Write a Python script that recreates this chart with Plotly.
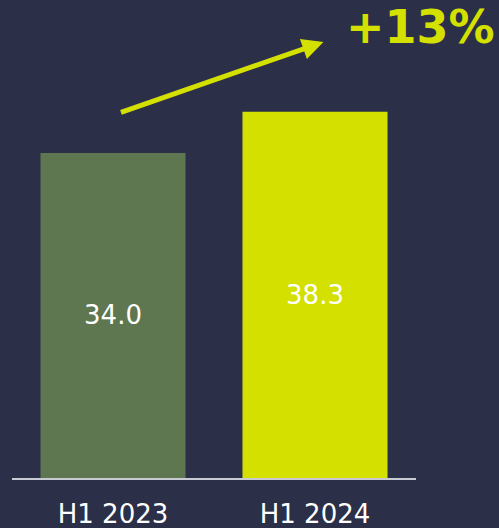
import plotly.graph_objects as go

BG = "#2b2f48"
FONT = "DejaVu Sans, Verdana, sans-serif"

periods = ["H1 2023", "H1 2024"]
values = [34.0, 38.3]
bar_colors = ["#5f7750", "#d4e000"]
growth_label = "+13%"

x_pos = list(range(len(periods)))

fig = go.Figure(go.Bar(
    x=x_pos,
    y=values,
    width=0.718,
    marker=dict(color=bar_colors, line=dict(width=0)),
    text=[f"{v:.1f}" for v in values],
    textposition="inside",
    insidetextanchor="middle",
    textangle=0,
    textfont=dict(family=FONT, size=26, color="white"),
    hoverinfo="skip",
))

# growth arrow from first bar towards the label
fig.add_annotation(
    x=1.042, y=45.6, xref="x", yref="y",
    ax=0.032, ay=38.2, axref="x", ayref="y",
    showarrow=True, arrowhead=2, arrowsize=0.85, arrowwidth=5,
    arrowcolor="#d4e000", text="",
)
fig.add_annotation(
    x=1.01, y=0.943, xref="paper", yref="paper",
    text=f"<b>{growth_label}</b>", showarrow=False,
    xanchor="center", yanchor="middle",
    font=dict(family=FONT, size=46, color="#d4e000"),
)

fig.update_layout(
    width=499,
    height=528,
    paper_bgcolor=BG,
    plot_bgcolor=BG,
    margin=dict(l=12, r=83, t=0, b=50),
    showlegend=False,
    xaxis=dict(
        range=[-0.5, 1.5],
        tickmode="array",
        tickvals=x_pos,
        ticktext=periods,
        showgrid=False,
        zeroline=False,
        showline=True,
        linecolor="#c9cbd4",
        linewidth=2,
        ticks="",
        ticklabelstandoff=12,
        tickfont=dict(family=FONT, size=26, color="white"),
        fixedrange=True,
    ),
    yaxis=dict(
        range=[0, 50],
        visible=False,
        showgrid=False,
        zeroline=False,
        fixedrange=True,
    ),
)

fig.write_html(
    "out.html",
    config={"displayModeBar": False},
    post_script="document.body.style.margin='0';document.body.style.background='%s';" % BG,
)
